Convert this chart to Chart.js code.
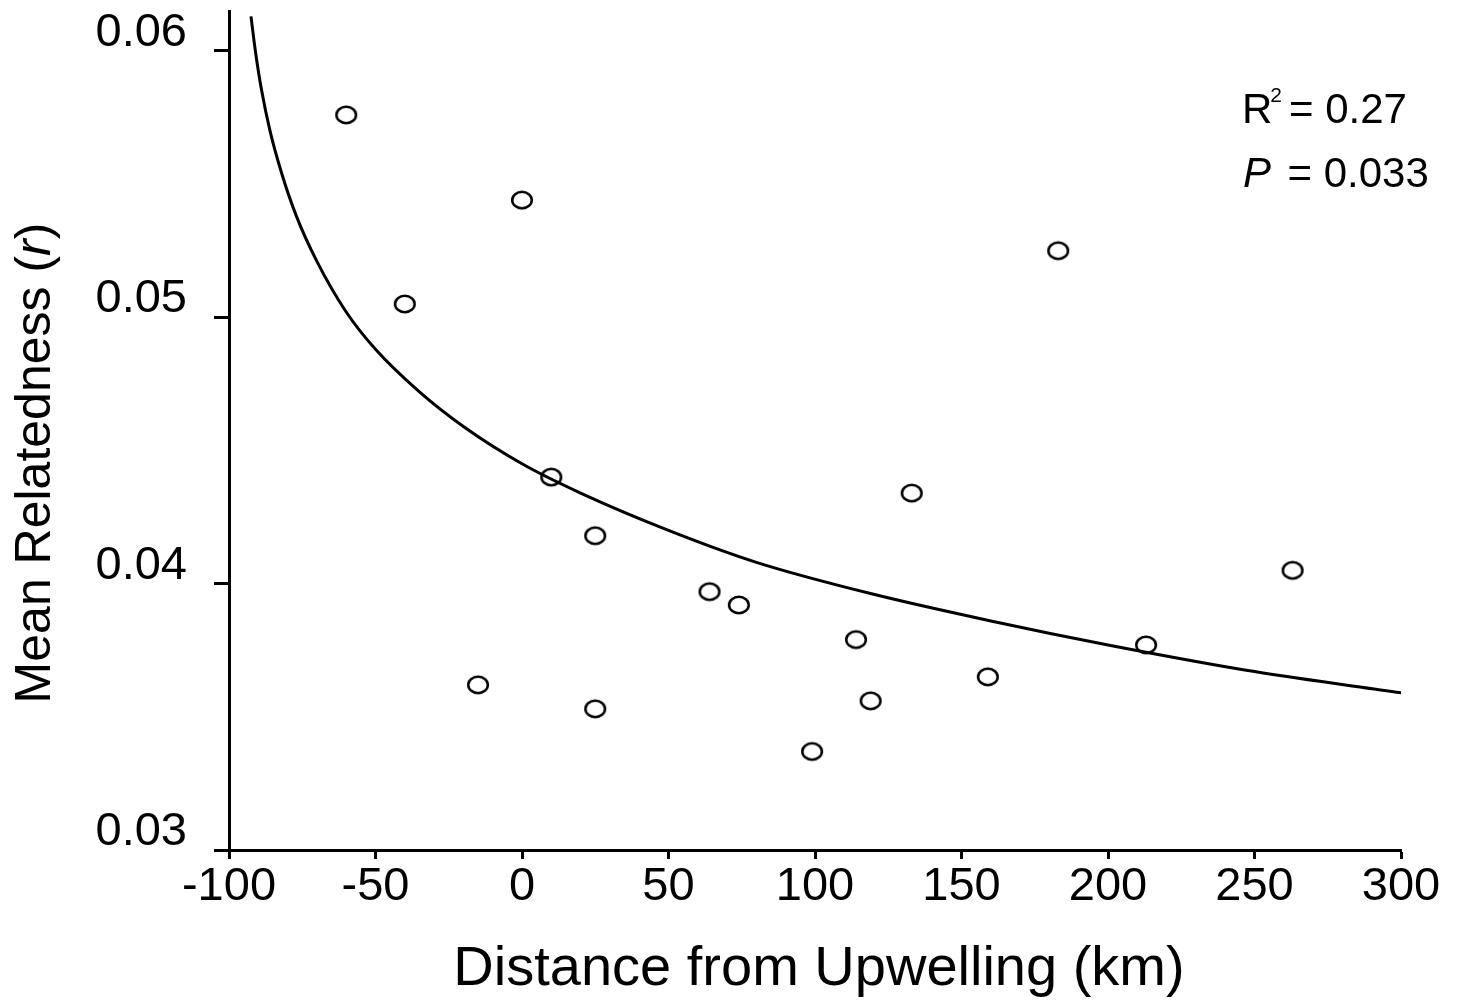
<!DOCTYPE html>
<html>
<head>
<meta charset="utf-8">
<script src="https://cdn.jsdelivr.net/npm/chart.js@4/dist/chart.umd.min.js"></script>
<style>
  html, body { margin: 0; padding: 0; background: #fff; }
  #c { display: block; }
</style>
</head>
<body>
<canvas id="c" width="1467" height="1000"></canvas>
<script>
// ---- Data ----
const distanceKm = [-60, 0, -40, 183, 10, 133, 25, 263, 64, 74, 114, 213, 159, -15, 119, 25, 99];
const relatedness = [0.0576, 0.0544, 0.0505, 0.0525, 0.0440, 0.0434, 0.0418, 0.0405, 0.0397, 0.0392, 0.0379, 0.0377, 0.0365, 0.0362, 0.0356, 0.0353, 0.0337];

// fitted curve, points
const fitX = [-92.5, -91, -89, -86, -82, -77, -70, -60, -50, -35, -20, 0, 20, 50, 80, 120, 160, 200, 250, 300];
const fitY = [0.0613, 0.0600, 0.0586, 0.0570, 0.0554, 0.0538, 0.0521, 0.0502, 0.0488, 0.0472, 0.0459, 0.0445, 0.0434, 0.0420, 0.0408, 0.0396, 0.0386, 0.0377, 0.0367, 0.0359];

const xTicks = [-100, -50, 0, 50, 100, 150, 200, 250, 300];
const yTicks = [0.03, 0.04, 0.05, 0.06];

const xTitle = 'Distance from Upwelling (km)';
const yTitleParts = [['Mean Relatedness (', false], ['r', true], [')', false]];
const r2Text = ['R', '2', '= 0.27'];
const pText = ['P', '= 0.033'];

const FONT = '"Liberation Sans", Arial, Helvetica, sans-serif';

// ellipse marker
function makeMarker() {
  const cv = document.createElement('canvas');
  cv.width = 28; cv.height = 24;
  const g = cv.getContext('2d');
  g.strokeStyle = '#000';
  g.lineWidth = 2.5;
  g.beginPath();
  g.ellipse(14, 12, 9.8, 8.2, 0, 0, Math.PI * 2);
  g.stroke();
  return cv;
}
const marker = makeMarker();

const textPlugin = {
  id: 'texts',
  afterDraw(chart) {
    const ctx = chart.ctx;
    const ca = chart.chartArea;
    ctx.save();
    ctx.fillStyle = '#000';
    ctx.textBaseline = 'alphabetic';

    // x title
    ctx.font = '56px ' + FONT;
    ctx.textAlign = 'center';
    ctx.fillText(xTitle, (ca.left + ca.right) / 2 + 4, 985);

    // y title (rotated, mixed italic)
    ctx.save();
    ctx.translate(50, 463);
    ctx.rotate(-Math.PI / 2);
    ctx.textAlign = 'left';
    let total = 0;
    const widths = yTitleParts.map(([t, it]) => {
      ctx.font = (it ? 'italic ' : '') + '50px ' + FONT;
      const w = ctx.measureText(t).width;
      total += w;
      return w;
    });
    let xx = -total / 2;
    yTitleParts.forEach(([t, it], i) => {
      ctx.font = (it ? 'italic ' : '') + '50px ' + FONT;
      ctx.fillText(t, xx, 0);
      xx += widths[i];
    });
    ctx.restore();

    // annotation R^2
    ctx.textAlign = 'left';
    const ax = ca.right - 159;
    ctx.font = '42px ' + FONT;
    ctx.fillText(r2Text[0], ax, 123);
    const rw = ctx.measureText(r2Text[0]).width;
    ctx.font = '21px ' + FONT;
    ctx.fillText(r2Text[1], ax + rw - 2, 102);
    ctx.font = '42px ' + FONT;
    ctx.fillText(r2Text[2], ax + 47, 123);

    // annotation P
    ctx.font = 'italic 42px ' + FONT;
    ctx.fillText(pText[0], ax + 1, 187);
    ctx.font = '42px ' + FONT;
    ctx.fillText(pText[1], ax + 45.5, 187);
    ctx.restore();
  }
};

const ctx = document.getElementById('c').getContext('2d');
new Chart(ctx, {
  type: 'scatter',
  data: {
    datasets: [
      {
        label: 'fit',
        data: fitX.map((x, i) => ({ x: x, y: fitY[i] })),
        showLine: true,
        borderColor: '#000',
        borderWidth: 3,
        pointRadius: 0,
        pointHoverRadius: 0,
        fill: false,
        cubicInterpolationMode: 'monotone'
      },
      {
        label: 'sites',
        data: distanceKm.map((x, i) => ({ x: x, y: relatedness[i] })),
        showLine: false,
        pointStyle: marker,
        pointRadius: 10,
        borderColor: '#000',
        backgroundColor: 'rgba(0,0,0,0)'
      }
    ]
  },
  options: {
    responsive: false,
    animation: false,
    devicePixelRatio: 1,
    layout: { padding: { left: 0, right: 66, top: 7, bottom: 0 } },
    plugins: {
      legend: { display: false },
      tooltip: { enabled: false },
      title: { display: false }
    },
    scales: {
      x: {
        type: 'linear',
        min: -100,
        max: 300,
        afterBuildTicks: s => { s.ticks = xTicks.map(v => ({ value: v })); },
        afterFit: s => { s.height = 150; s.paddingLeft = 0; s.paddingRight = 0; },
        border: { display: true, color: '#000', width: 3 },
        grid: {
          display: true,
          drawOnChartArea: false,
          drawTicks: true,
          tickLength: 9,
          tickWidth: 3,
          tickColor: '#000'
        },
        ticks: {
          color: '#000',
          font: { family: FONT, size: 47 },
          padding: 0,
          maxRotation: 0,
          autoSkip: false,
          callback: v => String(v)
        }
      },
      y: {
        type: 'linear',
        min: 0.03,
        max: 0.0615,
        afterBuildTicks: s => { s.ticks = yTicks.map(v => ({ value: v })); },
        afterFit: s => { s.width = 229; s.paddingTop = 0; s.paddingBottom = 0; },
        border: { display: true, color: '#000', width: 3 },
        grid: {
          display: true,
          drawOnChartArea: false,
          drawTicks: true,
          tickLength: 15,
          tickWidth: 3,
          tickColor: '#000'
        },
        ticks: {
          color: '#000',
          font: { family: FONT, size: 47 },
          padding: 27,
          labelOffset: -18,
          autoSkip: false,
          callback: v => v.toFixed(2)
        }
      }
    }
  },
  plugins: [textPlugin]
});
</script>
</body>
</html>
